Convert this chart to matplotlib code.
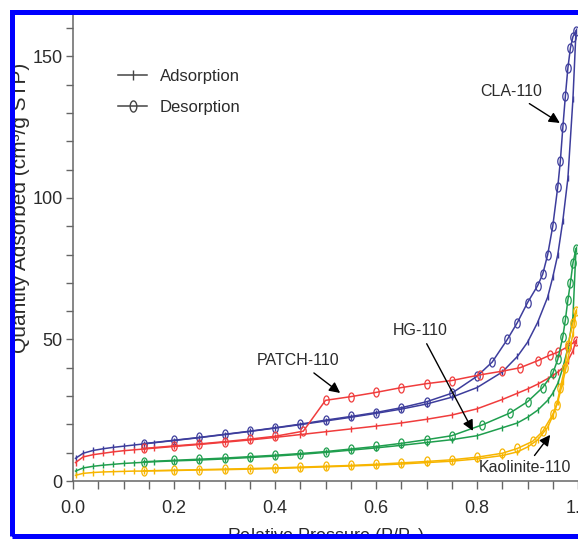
import numpy as np
import matplotlib
matplotlib.use("Agg")
import matplotlib.pyplot as plt
from matplotlib.lines import Line2D
from matplotlib.patches import Rectangle
from matplotlib.path import Path
from matplotlib.ticker import MultipleLocator

plt.rcParams['font.family'] = ['Liberation Sans', 'DejaVu Sans']

# relative pressure grid for the adsorption branches
p_ads = [0.005, 0.02, 0.04, 0.06, 0.08, 0.10, 0.12, 0.14, 0.16, 0.20, 0.25,
         0.30, 0.35, 0.40, 0.45, 0.50, 0.55, 0.60, 0.65, 0.70, 0.75, 0.80,
         0.85, 0.88, 0.90, 0.92, 0.94, 0.95, 0.96, 0.97, 0.98, 0.99, 0.996]

cla_ads = [8.0, 9.8, 10.8, 11.4, 11.9, 12.3, 12.7, 13.1, 13.5, 14.3, 15.3,
           16.4, 17.5, 18.7, 19.9, 21.2, 22.5, 23.9, 25.4, 27.2, 29.6, 33.0,
           38.5, 44.0, 49.0, 56.0, 65.0, 72.0, 80.0, 92.0, 107.0, 135.0, 159.0]
patch_ads = [6.5, 8.5, 9.3, 9.8, 10.3, 10.7, 11.0, 11.3, 11.6, 12.2, 12.9,
             13.7, 14.5, 15.4, 16.4, 17.4, 18.4, 19.4, 20.5, 21.8, 23.3, 25.5,
             28.8, 31.0, 32.5, 34.2, 36.2, 37.2, 38.5, 40.0, 42.5, 46.0, 49.5]
hg_ads = [3.5, 4.6, 5.2, 5.6, 5.9, 6.2, 6.4, 6.6, 6.8, 7.1, 7.4,
          7.8, 8.3, 8.8, 9.4, 10.1, 10.9, 11.7, 12.6, 13.6, 14.6, 16.0,
          18.8, 20.5, 22.5, 25.0, 28.5, 31.0, 34.5, 40.0, 47.0, 58.0, 82.0]
kao_ads = [2.0, 2.7, 3.0, 3.2, 3.3, 3.4, 3.5, 3.5, 3.6, 3.7, 3.9,
           4.0, 4.2, 4.4, 4.7, 5.0, 5.3, 5.6, 6.0, 6.5, 7.0, 7.8,
           9.0, 10.3, 12.0, 14.5, 19.0, 23.0, 28.0, 35.0, 43.0, 52.0, 60.0]

# desorption branches
cla_p_des = [0.996, 0.99, 0.985, 0.98, 0.975, 0.97, 0.965, 0.96, 0.95, 0.94,
             0.93, 0.92, 0.90, 0.88, 0.86, 0.83, 0.80, 0.75, 0.70, 0.65, 0.60,
             0.55, 0.50, 0.45, 0.40, 0.35, 0.30, 0.25, 0.20, 0.14]
cla_des = [159.0, 157.0, 153.0, 146.0, 136.0, 125.0, 113.0, 104.0, 90.0, 80.0,
           73.0, 69.0, 63.0, 56.0, 50.0, 42.0, 37.0, 31.0, 28.0, 25.9, 24.2,
           22.8, 21.5, 20.1, 18.8, 17.6, 16.5, 15.4, 14.4, 13.2]

patch_p_des = [0.996, 0.98, 0.96, 0.945, 0.92, 0.885, 0.85, 0.806, 0.75, 0.70,
               0.65, 0.60, 0.55, 0.50, 0.456, 0.40, 0.35, 0.30, 0.25, 0.20, 0.14]
patch_des = [49.5, 47.5, 45.5, 44.5, 42.5, 40.0, 38.8, 37.5, 35.5, 34.4,
             33.0, 31.3, 29.8, 28.5, 17.6, 15.8, 14.8, 13.9, 13.1, 12.4, 11.5]

hg_p_des = [0.996, 0.99, 0.985, 0.98, 0.975, 0.97, 0.96, 0.95, 0.93, 0.90,
            0.865, 0.81, 0.75, 0.70, 0.65, 0.60, 0.55, 0.50, 0.45, 0.40,
            0.35, 0.30, 0.25, 0.20, 0.14]
hg_des = [82.0, 77.0, 70.0, 64.0, 57.0, 51.0, 43.0, 38.0, 33.0, 28.0,
          24.0, 19.8, 16.0, 14.6, 13.3, 12.2, 11.3, 10.4, 9.7, 9.1,
          8.6, 8.1, 7.7, 7.3, 6.8]

kao_p_des = [0.996, 0.99, 0.98, 0.974, 0.965, 0.958, 0.95, 0.93, 0.91, 0.88,
             0.85, 0.80, 0.75, 0.70, 0.65, 0.60, 0.55, 0.50, 0.45, 0.40,
             0.35, 0.30, 0.25, 0.20, 0.14]
kao_des = [60.0, 56.0, 48.0, 40.0, 33.0, 27.0, 23.5, 17.5, 14.0, 11.5,
           9.8, 8.4, 7.5, 6.9, 6.4, 5.9, 5.5, 5.2, 4.9, 4.6,
           4.4, 4.2, 4.0, 3.8, 3.6]

samples = ["CLA-110", "PATCH-110", "HG-110", "Kaolinite-110"]
colors = ["#3d3d9c", "#f03c3c", "#1f9e4e", "#f7b500"]
ads_sets = [cla_ads, patch_ads, hg_ads, kao_ads]
des_sets = [(cla_p_des, cla_des), (patch_p_des, patch_des),
            (hg_p_des, hg_des), (kao_p_des, kao_des)]

# tall open ellipse used for desorption points
t = np.linspace(0, 2 * np.pi, 41)
ellipse = Path(np.column_stack([0.6 * np.cos(t), np.sin(t)]), closed=True)

txt = "#2b2b2b"
fig = plt.figure(figsize=(5.78, 5.39), dpi=100)
ax = fig.add_axes([73 / 578, 58 / 539, 505 / 578, 467 / 539])

for name, c, qa, (pd_, qd) in zip(samples, colors, ads_sets, des_sets):
    ax.plot(p_ads, qa, color=c, lw=1.1, marker="|", ms=5, mew=1.0)
    ax.plot(pd_, qd, color=c, lw=1.1, marker=ellipse, ms=6.5, mew=0.9,
            mfc="none")

ax.set_xlim(0, 1.0)
ax.set_ylim(0, 165)
ax.xaxis.set_major_locator(MultipleLocator(0.2))
ax.xaxis.set_minor_locator(MultipleLocator(0.05))
ax.yaxis.set_major_locator(MultipleLocator(50))
ax.yaxis.set_minor_locator(MultipleLocator(10))
ax.xaxis.set_major_formatter(plt.FuncFormatter(lambda v, _: f"{v:.1f}"))
ax.tick_params(axis="x", which="both", direction="out", length=6, width=1,
               color="#666666", pad=8, labelsize=13, labelcolor=txt)
ax.tick_params(axis="y", which="both", direction="out", length=5, width=1,
               color="#666666", pad=2.5, labelsize=13, labelcolor=txt)
for s in ["top", "right"]:
    ax.spines[s].set_visible(False)
for s in ["left", "bottom"]:
    ax.spines[s].set_color("#666666")
    ax.spines[s].set_linewidth(1.1)

ax.set_xlabel("Relative Pressure (P/P$_0$)", fontsize=13, color=txt, labelpad=6)
fig.text(21 / 578, 1 - 208 / 539, "Quantity Adsorbed (cm³/g STP)",
         rotation=90, ha="center", va="center", fontsize=15, color=txt)

handles = [Line2D([], [], color="#444444", lw=1.1, marker="|", ms=7, mew=1.0),
           Line2D([], [], color="#444444", lw=1.1, marker=ellipse, ms=8,
                  mew=1.0, mfc="none")]
leg = ax.legend(handles, ["Adsorption", "Desorption"], loc="upper left",
                bbox_to_anchor=(0.06, 0.915), frameon=False, fontsize=12,
                handlelength=1.75, handletextpad=0.75, labelspacing=0.95)
for tx in leg.get_texts():
    tx.set_color(txt)

arrow = dict(arrowstyle="-|>", color="black", lw=1.0, mutation_scale=16,
             shrinkA=2, shrinkB=0)
ax.annotate("CLA-110", xy=(0.964, 126.5), xytext=(0.867, 137.5),
            ha="center", va="center", fontsize=11.5, color=txt, arrowprops=arrow)
ax.annotate("PATCH-110", xy=(0.529, 31.1), xytext=(0.446, 42.4),
            ha="center", va="center", fontsize=11.5, color=txt, arrowprops=arrow)
ax.annotate("HG-110", xy=(0.792, 17.7), xytext=(0.687, 53.0),
            ha="center", va="center", fontsize=11.5, color=txt, arrowprops=arrow)
ax.annotate("Kaolinite-110", xy=(0.945, 16.3), xytext=(0.895, 4.6),
            ha="center", va="center", fontsize=11.5, color=txt, arrowprops=arrow)

# blue frame around the picture
fig.add_artist(Rectangle((12.5 / 578, 3 / 539), 620 / 578, 524.5 / 539,
                         transform=fig.transFigure, fill=False,
                         edgecolor="#0000ff", lw=3.6, zorder=10,
                         clip_on=False))

fig.savefig("out.png", dpi=100)
